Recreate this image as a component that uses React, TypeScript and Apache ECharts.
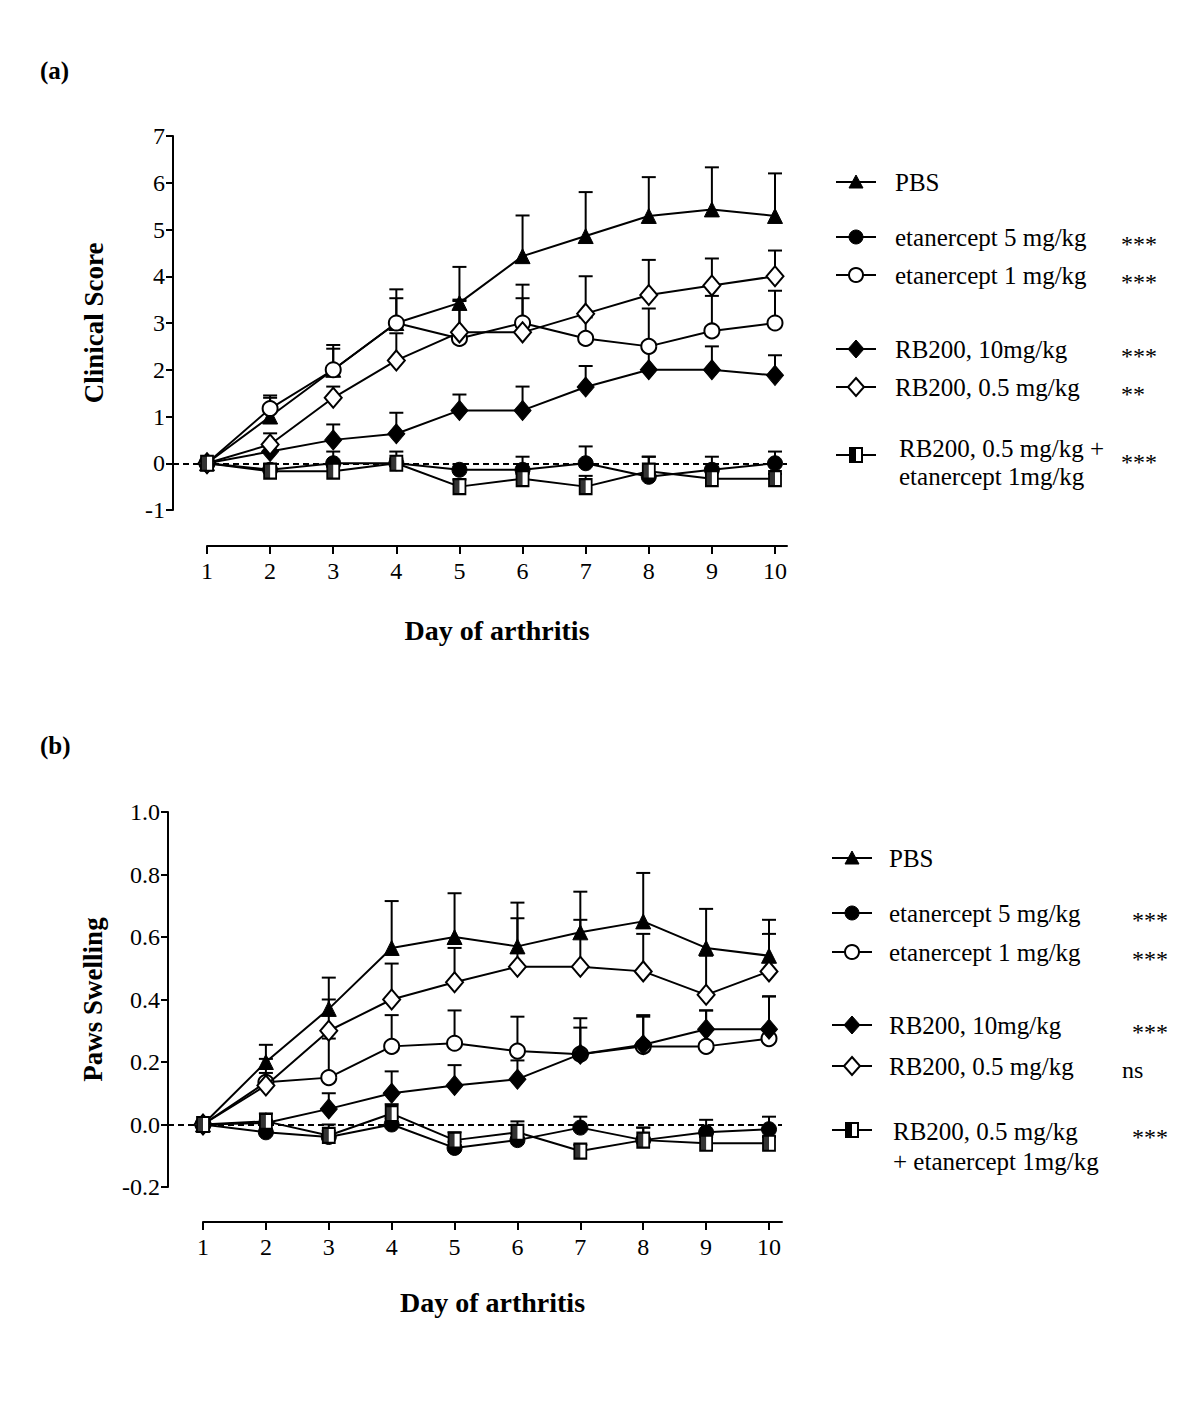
import React, { useEffect, useRef } from "react";
import * as echarts from "echarts";

// ---------- DATA ----------
const days = [1, 2, 3, 4, 5, 6, 7, 8, 9, 10];
const groupNames = [
  "PBS",
  "etanercept 5 mg/kg",
  "etanercept 1 mg/kg",
  "RB200, 10mg/kg",
  "RB200, 0.5 mg/kg",
  "RB200, 0.5 mg/kg + etanercept 1mg/kg",
];

// Panel (a) Clinical Score: means and SEM
const pbsA = [0, 1.0, 2.0, 3.0, 3.43, 4.43, 4.86, 5.29, 5.43, 5.29];
const pbsASem = [0, 0.45, 0.53, 0.72, 0.77, 0.87, 0.94, 0.83, 0.9, 0.91];
const etan5A = [0, -0.14, 0, 0, -0.14, -0.14, 0, -0.29, -0.14, 0];
const etan5ASem = [0, 0.1, 0.25, 0.25, 0.12, 0.28, 0.36, 0.43, 0.28, 0.25];
const etan1A = [0, 1.17, 2.0, 3.0, 2.67, 3.0, 2.67, 2.5, 2.83, 3.0];
const etan1ASem = [0, 0.23, 0.45, 0.53, 0.8, 0.82, 0.45, 0.81, 0.75, 0.69];
const rb10A = [0, 0.25, 0.5, 0.63, 1.13, 1.13, 1.63, 2.0, 2.0, 1.88];
const rb10ASem = [0, 0.1, 0.33, 0.45, 0.34, 0.51, 0.45, 0.45, 0.5, 0.43];
const rb05A = [0, 0.4, 1.4, 2.2, 2.8, 2.8, 3.2, 3.6, 3.8, 4.0];
const rb05ASem = [0, 0.24, 0.24, 0.58, 0.7, 0.73, 0.8, 0.75, 0.58, 0.55];
const comboA = [0, -0.17, -0.17, 0, -0.5, -0.33, -0.5, -0.17, -0.33, -0.33];
const comboASem = [0, 0.05, 0.1, 0.1, 0.15, 0.1, 0.23, 0.31, 0.2, 0.1];

// Panel (b) Paws Swelling: means and SEM
const pbsB = [0, 0.2, 0.37, 0.565, 0.6, 0.57, 0.615, 0.65, 0.565, 0.54];
const pbsBSem = [0, 0.055, 0.1, 0.15, 0.14, 0.14, 0.13, 0.155, 0.125, 0.115];
const etan5B = [0, -0.025, -0.04, 0, -0.075, -0.05, -0.01, -0.05, -0.025, -0.015];
const etan5BSem = [0, 0.01, 0.02, 0.02, 0.02, 0.02, 0.035, 0.04, 0.04, 0.04];
const etan1B = [0, 0.135, 0.15, 0.25, 0.26, 0.235, 0.225, 0.25, 0.25, 0.275];
const etan1BSem = [0, 0.03, 0.125, 0.1, 0.105, 0.11, 0.115, 0.1, 0.115, 0.135];
const rb10B = [0, 0.005, 0.05, 0.1, 0.125, 0.145, 0.225, 0.255, 0.305, 0.305];
const rb10BSem = [0, 0.01, 0.05, 0.07, 0.065, 0.06, 0.085, 0.09, 0.06, 0.105];
const rb05B = [0, 0.125, 0.3, 0.4, 0.455, 0.505, 0.505, 0.49, 0.415, 0.49];
const rb05BSem = [0, 0.085, 0.1, 0.115, 0.11, 0.155, 0.15, 0.12, 0.125, 0.12];
const comboB = [0, 0.01, -0.035, 0.035, -0.05, -0.025, -0.085, -0.05, -0.06, -0.06];
const comboBSem = [0, 0.025, 0.035, 0.03, 0.025, 0.035, 0.02, 0.04, 0.02, 0.02];

// Significance labels
const sigA = ["", "***", "***", "***", "**", "***"];
const sigB = ["", "***", "***", "***", "ns", "***"];

// ---------- STYLE / LAYOUT ----------
const FONT = "Liberation Serif";
type Kind = "triangle" | "dot" | "ring" | "diamondFill" | "diamondOpen" | "half";
const kinds: Kind[] = ["triangle", "dot", "ring", "diamondFill", "diamondOpen", "half"];

const panels = [
  {
    label: "(a)", labelY: 70,
    yName: "Clinical Score", yMin: -1, yMax: 7, yInt: 1, yDec: 0, yNameGap: 66,
    plotLeft: 173, day1X: 207, day10X: 775, endX: 787, yTop: 136, yBot: 510, xAxisY: 546, xNameGap: 70,
    means: [pbsA, etan5A, etan1A, rb10A, rb05A, comboA],
    sems: [pbsASem, etan5ASem, etan1ASem, rb10ASem, rb05ASem, comboASem],
    sig: sigA,
    legend: { lineX1: 836, lineX2: 876, textX: 895, sigX: 1121, rows: [182, 237, 275, 349, 387, 455], comboText: [448, 476], comboTextX: 899, comboLines: ["RB200, 0.5 mg/kg +", "etanercept 1mg/kg"] },
  },
  {
    label: "(b)", labelY: 745,
    yName: "Paws Swelling", yMin: -0.2, yMax: 1.0, yInt: 0.2, yDec: 1, yNameGap: 62,
    plotLeft: 168, day1X: 203, day10X: 769, endX: 782, yTop: 812, yBot: 1187, xAxisY: 1222, xNameGap: 66,
    means: [pbsB, etan5B, etan1B, rb10B, rb05B, comboB],
    sems: [pbsBSem, etan5BSem, etan1BSem, rb10BSem, rb05BSem, comboBSem],
    sig: sigB,
    legend: { lineX1: 832, lineX2: 872, textX: 889, sigX: 1132, rows: [858, 913, 952, 1025, 1066, 1130], comboText: [1131, 1161], comboTextX: 893, comboLines: ["RB200, 0.5 mg/kg", "+ etanercept 1mg/kg"] },
  },
];

function symbolFor(kind: Kind) {
  switch (kind) {
    case "triangle": return { symbol: "triangle", symbolSize: 15, itemStyle: { color: "#000", borderColor: "#000", borderWidth: 1 } };
    case "dot": return { symbol: "circle", symbolSize: 15, itemStyle: { color: "#000", borderColor: "#000", borderWidth: 1 } };
    case "ring": return { symbol: "circle", symbolSize: 15, itemStyle: { color: "#fff", borderColor: "#000", borderWidth: 2 } };
    case "diamondFill": return { symbol: "diamond", symbolSize: [17, 20], itemStyle: { color: "#000", borderColor: "#000", borderWidth: 1 } };
    case "diamondOpen": return { symbol: "diamond", symbolSize: [17, 20], itemStyle: { color: "#fff", borderColor: "#000", borderWidth: 2 } };
    case "half": return { symbol: "rect", symbolSize: [12, 15], itemStyle: { color: "#fff", borderColor: "#000", borderWidth: 2 } };
  }
}

function legendMarker(kind: Kind, cx: number, cy: number): any[] {
  const black = { fill: "#000", stroke: "#000", lineWidth: 1 };
  const white = { fill: "#fff", stroke: "#000", lineWidth: 2 };
  switch (kind) {
    case "triangle": return [{ type: "polygon", shape: { points: [[cx, cy - 7], [cx + 7, cy + 6], [cx - 7, cy + 6]] }, style: black }];
    case "dot": return [{ type: "circle", shape: { cx, cy, r: 7 }, style: black }];
    case "ring": return [{ type: "circle", shape: { cx, cy, r: 7 }, style: white }];
    case "diamondFill": return [{ type: "polygon", shape: { points: [[cx, cy - 9], [cx + 8, cy], [cx, cy + 9], [cx - 8, cy]] }, style: black }];
    case "diamondOpen": return [{ type: "polygon", shape: { points: [[cx, cy - 9], [cx + 8, cy], [cx, cy + 9], [cx - 8, cy]] }, style: white }];
    case "half": return [
      { type: "rect", shape: { x: cx - 6, y: cy - 7, width: 12, height: 14 }, style: white },
      { type: "rect", shape: { x: cx - 6, y: cy - 7, width: 6, height: 14 }, style: { fill: "#000" } },
    ];
  }
}

const errRender = (params: any, api: any) => {
  const x = api.value(0), y = api.value(1), hi = api.value(2);
  if (!(hi > y)) return null;
  const p0 = api.coord([x, y]);
  const p1 = api.coord([x, hi]);
  const st = { stroke: "#000", lineWidth: 2 };
  return {
    type: "group",
    children: [
      { type: "line", shape: { x1: p0[0], y1: p0[1], x2: p1[0], y2: p1[1] }, style: st },
      { type: "line", shape: { x1: p1[0] - 7, y1: p1[1], x2: p1[0] + 7, y2: p1[1] }, style: st },
    ],
  };
};

function buildOption() {
  const grid: any[] = [];
  const xAxis: any[] = [];
  const yAxis: any[] = [];
  const series: any[] = [];
  const graphic: any[] = [];

  panels.forEach((p) => {
    const s = (p.day10X - p.day1X) / 9;
    const xMax = 10 + (p.endX - p.day10X) / s;
    const xMinHidden = 1 - (p.day1X - p.plotLeft) / s;
    const h = p.yBot - p.yTop;
    const g0 = grid.length;
    grid.push({ left: p.plotLeft, top: p.yTop, width: p.endX - p.plotLeft, height: h });
    grid.push({ left: p.day1X, top: p.yTop, width: p.endX - p.day1X, height: h });
    const xi = xAxis.length;
    xAxis.push({ type: "value", gridIndex: g0, min: xMinHidden, max: xMax, show: false });
    xAxis.push({
      type: "value", gridIndex: g0 + 1, min: 1, max: xMax, interval: 1, position: "bottom",
      offset: p.xAxisY - p.yBot,
      name: "Day of arthritis", nameLocation: "middle", nameGap: p.xNameGap,
      nameTextStyle: { fontFamily: FONT, fontSize: 28, fontWeight: "bold", color: "#000" },
      axisLine: { show: true, onZero: false, lineStyle: { color: "#000", width: 2 } },
      axisTick: { show: true, length: 8, lineStyle: { color: "#000", width: 2 }, customValues: days },
      axisLabel: { fontFamily: FONT, fontSize: 24, color: "#000", margin: 13, customValues: days },
      splitLine: { show: false },
    });
    const yi = yAxis.length;
    yAxis.push({
      type: "value", gridIndex: g0, min: p.yMin, max: p.yMax, interval: p.yInt,
      name: p.yName, nameLocation: "middle", nameGap: p.yNameGap,
      nameTextStyle: { fontFamily: FONT, fontSize: 27, fontWeight: "bold", color: "#000" },
      axisLine: { show: true, onZero: false, lineStyle: { color: "#000", width: 2 } },
      axisTick: { show: true, length: 7, lineStyle: { color: "#000", width: 2 } },
      axisLabel: { fontFamily: FONT, fontSize: 24, color: "#000", margin: 8, formatter: (v: number) => v.toFixed(p.yDec) },
      splitLine: { show: false },
    });
    yAxis.push({ type: "value", gridIndex: g0 + 1, min: p.yMin, max: p.yMax, show: false });

    // error bars (behind)
    p.means.forEach((m, si) => {
      series.push({
        type: "custom", xAxisIndex: xi, yAxisIndex: yi, z: 1, silent: true, clip: false,
        renderItem: errRender,
        encode: { x: 0, y: [1, 2] },
        data: days.map((d, k) => [d, m[k], m[k] + p.sems[si][k]]),
      });
    });
    // lines with markers
    p.means.forEach((m, si) => {
      const sym = symbolFor(kinds[si]);
      const line: any = {
        type: "line", name: groupNames[si], xAxisIndex: xi, yAxisIndex: yi, z: 3 + si, silent: true,
        data: days.map((d, k) => [d, m[k]]),
        showAllSymbol: true, clip: false,
        lineStyle: { color: "#000", width: 2 },
        ...sym,
      };
      if (si === 0) {
        line.markLine = {
          silent: true, symbol: ["none", "none"], label: { show: false },
          lineStyle: { color: "#000", type: [6, 4], width: 2 },
          data: [{ yAxis: 0 }],
          z: 2,
        };
      }
      series.push(line);
      if (kinds[si] === "half") {
        series.push({
          type: "scatter", xAxisIndex: xi, yAxisIndex: yi, z: 20, silent: true,
          symbol: "path://M0 0H1V2H0Z", symbolSize: [6, 15], symbolOffset: [-3, 0],
          itemStyle: { color: "#000" },
          data: days.map((d, k) => [d, m[k]]),
        });
      }
    });

    // panel label
    graphic.push({ type: "text", x: 40, y: p.labelY, style: { text: p.label, fontFamily: FONT, fontSize: 25, fontWeight: "bold", fill: "#000", verticalAlign: "middle" } });

    // legend
    const L = p.legend;
    kinds.forEach((k, si) => {
      const cy = L.rows[si];
      const cx = (L.lineX1 + L.lineX2) / 2;
      graphic.push({ type: "line", shape: { x1: L.lineX1, y1: cy, x2: L.lineX2, y2: cy }, style: { stroke: "#000", lineWidth: 2 } });
      legendMarker(k, cx, cy).forEach((e) => graphic.push(e));
      if (k === "half") {
        L.comboLines.forEach((t, li) => {
          graphic.push({ type: "text", x: L.comboTextX, y: L.comboText[li], style: { text: t, fontFamily: FONT, fontSize: 25, fill: "#000", verticalAlign: "middle" } });
        });
      } else {
        graphic.push({ type: "text", x: L.textX, y: cy, style: { text: groupNames[si], fontFamily: FONT, fontSize: 25, fill: "#000", verticalAlign: "middle" } });
      }
      const sg = p.sig[si];
      if (sg) {
        const isStar = sg.indexOf("*") >= 0;
        graphic.push({
          type: "text", x: isStar ? L.sigX : L.sigX - 10, y: cy + (isStar ? 7 : 4),
          style: { text: sg, fontFamily: FONT, fontSize: isStar ? 24 : 24, fill: "#000", verticalAlign: "middle" },
        });
      }
    });
  });

  return { animation: false, backgroundColor: "#fff", grid, xAxis, yAxis, series, graphic };
}

export default function App() {
  const ref = useRef<HTMLDivElement>(null);
  useEffect(() => {
    if (!ref.current) return;
    const chart = echarts.init(ref.current, undefined, { renderer: "svg" });
    chart.setOption(buildOption() as any);
    return () => chart.dispose();
  }, []);
  return <div ref={ref} style={{ position: "absolute", left: 0, top: 0, width: 1200, height: 1402, background: "#fff" }} />;
}
